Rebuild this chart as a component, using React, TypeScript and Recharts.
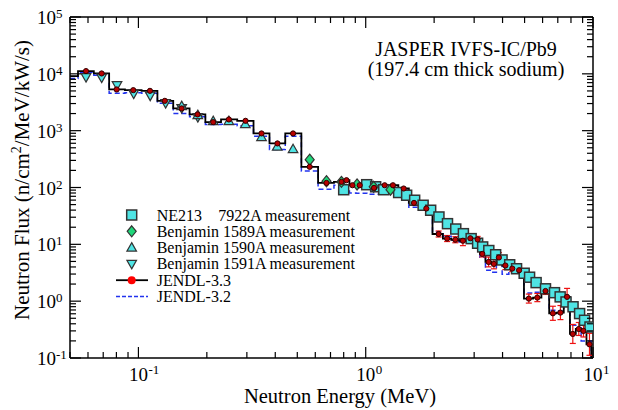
import React from "react";
import { ComposedChart, Line, Scatter, XAxis, YAxis, ErrorBar, Legend } from "recharts";

// JENDL calculation, group centres (first/last entries are the range ends of the histogram)
const jendlE = [
  0.05, 0.0588, 0.0689, 0.0802, 0.0949, 0.1124, 0.1307, 0.1549, 0.182, 0.2133,
  0.25, 0.296, 0.348, 0.409, 0.479, 0.567, 0.672, 0.782, 0.823, 0.874,
  0.941, 1.088, 1.212, 1.318, 1.469, 1.631, 1.848, 2.094, 2.281, 2.479,
  2.677, 2.885, 3.107, 3.258, 3.473, 3.664, 3.855, 4.117, 4.415, 4.73,
  5.22, 5.69, 6.18, 6.66, 7.19, 7.69, 8.15, 8.66, 9.08, 9.65, 10,
];
const jendl33 = [
  9120, 11170, 10150, 5310, 5160, 5020, 3350, 2460, 1930, 1413,
  1574, 1490, 893, 596, 893, 231, 120.5, 125.6, 134.3, 109.6,
  109.6, 98.4, 109.6, 109.6, 96, 53.6, 42.7, 15.2, 12.65, 12.05,
  11.57, 12.8, 12.2, 6.78, 4.9, 4.52, 5.86, 4.24, 3.75, 3.5,
  1.11, 1.157, 1.51, 0.612, 0.63, 1.19, 0.265, 0.324, 0.3, 0.174, 0.1,
];
const jendl32 = [
  8300, 10700, 9480, 4570, 4670, 4570, 3050, 2010, 1750, 1285,
  1300, 1217, 800, 467, 800, 196, 93.3, 109.6, 89.5, 80.4,
  79.4, 76.2, 82.6, 89.5, 89.5, 45, 43.5, 16.5, 13.9, 11.8,
  11.0, 12.8, 11.9, 5.93, 3.5, 3.23, 5.25, 2.98, 3.4, 3.5,
  1.39, 1.43, 1.62, 0.69, 0.67, 1.18, 0.377, 0.34, 0.2, 0.2, 0.1,
];
// error factor of JENDL-3.3 points (1 = no bar)
const jendl33Err = [
  1, 1, 1, 1, 1, 1, 1, 1, 1, 1,
  1, 1, 1, 1, 1, 1, 1, 1, 1, 1,
  1, 1, 1, 1, 1, 1, 1, 1.13, 1.13, 1.13,
  1.22, 1.18, 1.13, 1.13, 1.22, 1.22, 1.22, 1.18, 1.13, 1.13,
  1.2, 1.18, 1.15, 1.33, 1.33, 1.41, 1.47, 1.3, 1.28, 1.56, 1,
];

const ne213E = [
  0.8, 1.01, 1.106, 1.2, 1.396, 1.514, 1.642, 1.789, 1.931, 2.1,
  2.29, 2.49, 2.69, 2.91, 3.107, 3.27, 3.48, 3.73, 3.98, 4.3,
  4.61, 4.98, 5.26, 5.62, 6.18, 6.77, 7.17, 7.61, 8.17, 8.73, 9.18, 9.7,
];
const ne213F = [
  91.4, 112, 103, 91.4, 81.6, 73.1, 59.7, 48.7, 39.8, 30.3,
  23.1, 18.6, 15.4, 12.6, 10.45, 9.0, 7.78, 6.56, 5.31, 4.37,
  3.72, 3.1, 2.64, 2.12, 1.65, 1.41, 1.19, 0.968, 0.797, 0.605, 0.461, 0.351,
];
const b1589E = [0.567, 0.672, 0.782, 0.916, 1.084, 1.285];
const b1589F = [308, 129, 125.6, 113, 103, 91.4];
const b1590E = [0.155, 0.1825, 0.2133, 0.25, 0.2953, 0.348, 0.408, 0.479];
const b1590F = [2700, 1875, 1470, 1470, 1300, 770, 522, 472];
const b1591E = [0.0588, 0.0689, 0.0805, 0.0953, 0.1127, 0.1317, 0.155, 0.1825];
const b1591F = [8750, 8570, 6330, 4480, 4130, 3050, 2490, 1730];

const xTicks = [
  0.05, 0.06, 0.07, 0.08, 0.09, 0.1, 0.2, 0.3, 0.4, 0.5, 0.6, 0.7, 0.8, 0.9,
  1, 2, 3, 4, 5, 6, 7, 8, 9, 10,
];
const yDecades = [0.1, 1, 10, 100, 1000, 10000];
const yMinor = [1, 2, 3, 4, 5, 6, 7, 8, 9];
const yTicks = [...yDecades.flatMap((d) => yMinor.map((m) => m * d)), 100000];

const serifStyle = { fontFamily: "Liberation Serif, Times New Roman, DejaVu Serif, serif" };
const cyan = "#4fe4e4";
const green = "#1fd67a";
const edge = "#333";

const pts = (xs: number[], ys: number[]) => xs.map((e, i) => ({ e, f: ys[i] }));
const line33 = pts(jendlE, jendl33);
const line32 = pts(jendlE, jendl32);
const dots33 = line33
  .map((p, i) => ({ ...p, k: jendl33Err[i] }))
  .filter((_, i) => i > 0 && i < jendlE.length - 1);
const dotsPlain = dots33.filter((p) => p.k === 1);
const dotsErr = dots33
  .filter((p) => p.k > 1)
  .map((p) => ({ ...p, err: [p.f - p.f / p.k, p.f * p.k - p.f] }));

const isDecade = (v: number) => Math.abs(Math.log10(v) - Math.round(Math.log10(v))) < 1e-6;

const BottomTick = (props: any) => {
  const { x, y, payload } = props;
  const v = payload.value;
  const major = isDecade(v);
  return (
    <g>
      <line x1={x} x2={x} y1={y} y2={y - (major ? 11 : 6)} stroke="#000" strokeWidth={1.2} />
      {major && (
        <g fill="#000">
          <text x={x} y={y + 23} textAnchor="middle" fontSize={19} style={serifStyle}>10</text>
          <text x={x + 10} y={y + 16} fontSize={13} style={serifStyle}>{Math.round(Math.log10(v))}</text>
        </g>
      )}
    </g>
  );
};
const TopTick = (props: any) => {
  const { x, y, payload } = props;
  const major = isDecade(payload.value);
  return <line x1={x} x2={x} y1={y} y2={y + (major ? 11 : 6)} stroke="#000" strokeWidth={1.2} />;
};
const LeftTick = (props: any) => {
  const { x, y, payload } = props;
  const v = payload.value;
  const major = isDecade(v);
  return (
    <g>
      <line x1={x} x2={x + (major ? 11 : 6)} y1={y} y2={y} stroke="#000" strokeWidth={1.2} />
      {major && (
        <text x={x - 33} y={y + 7} style={serifStyle} fontSize={19} fill="#000">
          10<tspan dy={-6} fontSize={13}>{Math.round(Math.log10(v))}</tspan>
        </text>
      )}
    </g>
  );
};
const RightTick = (props: any) => {
  const { x, y, payload } = props;
  const major = isDecade(payload.value);
  return <line x1={x} x2={x - (major ? 11 : 6)} y1={y} y2={y} stroke="#000" strokeWidth={1.2} />;
};

const Square = ({ cx, cy }: any) => (
  <rect x={cx - 5} y={cy - 5} width={10} height={10} fill={cyan} stroke={edge} strokeWidth={1.5} />
);
const Diamond = ({ cx, cy }: any) => (
  <path d={`M${cx},${cy - 5.5}L${cx + 4.5},${cy}L${cx},${cy + 5.5}L${cx - 4.5},${cy}Z`} fill={green} stroke={edge} strokeWidth={1.2} />
);
const TriUp = ({ cx, cy }: any) => (
  <path d={`M${cx},${cy - 5}L${cx + 4.8},${cy + 3.5}L${cx - 4.8},${cy + 3.5}Z`} fill={cyan} stroke={edge} strokeWidth={1.2} />
);
const TriDown = ({ cx, cy }: any) => (
  <path d={`M${cx},${cy + 5}L${cx + 4.8},${cy - 3.5}L${cx - 4.8},${cy - 3.5}Z`} fill={cyan} stroke={edge} strokeWidth={1.2} />
);
const RedDot = ({ cx, cy }: any) => (
  <circle cx={cx} cy={cy} r={2.6} fill="#b80000" stroke="#300" strokeWidth={1} />
);

const legendRows = [
  { label: "NE213", extra: "7922A measurement", mark: "square" },
  { label: "Benjamin 1589A measurement", mark: "diamond" },
  { label: "Benjamin 1590A measurement", mark: "up" },
  { label: "Benjamin 1591A measurement", mark: "down" },
  { label: "JENDL-3.3", mark: "j33" },
  { label: "JENDL-3.2", mark: "j32" },
];

const renderLegend = () => (
  <svg width={270} height={100} style={{ overflow: "visible" }}>
    {legendRows.map((r, i) => {
      const cy = 12 + i * 16.3;
      const cx = 23.7;
      return (
        <g key={r.label}>
          {r.mark === "square" && <Square cx={cx} cy={cy} />}
          {r.mark === "diamond" && <Diamond cx={cx} cy={cy} />}
          {r.mark === "up" && <TriUp cx={cx} cy={cy} />}
          {r.mark === "down" && <TriDown cx={cx} cy={cy} />}
          {r.mark === "j33" && (
            <g>
              <line x1={8} x2={40} y1={cy} y2={cy} stroke="#000" strokeWidth={1.8} />
              <circle cx={cx} cy={cy} r={4} fill="#ff0000" />
            </g>
          )}
          {r.mark === "j32" && (
            <line x1={8} x2={40} y1={cy} y2={cy} stroke="#2233ee" strokeWidth={1.5} strokeDasharray="4 2" />
          )}
          <text x={48.7} y={cy + 5.5} style={serifStyle} fontSize={16} fill="#000">
            {r.label}
          </text>
          {r.extra && (
            <text x={110.3} y={cy + 5.5} style={serifStyle} fontSize={16} fill="#000">
              {r.extra}
            </text>
          )}
        </g>
      );
    })}
  </svg>
);

const axisLine = { stroke: "#000", strokeWidth: 1.5 };

export default function App() {
  return (
    <div style={{ position: "absolute", left: 0, top: 0, width: 618, height: 410, background: "#fff", ...serifStyle }}>
      <ComposedChart width={618} height={410} margin={{ top: 16, right: 24, left: 69, bottom: 51 }}>
        <XAxis xAxisId="b" dataKey="e" type="number" scale="log" domain={[0.05, 10]} allowDataOverflow
          ticks={xTicks} interval={0} tick={<BottomTick />} tickLine={false} tickSize={0} tickMargin={0}
          height={1} axisLine={axisLine} />
        <XAxis xAxisId="t" orientation="top" dataKey="e" type="number" scale="log" domain={[0.05, 10]} allowDataOverflow
          ticks={xTicks} interval={0} tick={<TopTick />} tickLine={false} tickSize={0} tickMargin={0}
          height={1} axisLine={axisLine} />
        <YAxis yAxisId="l" dataKey="f" type="number" scale="log" domain={[0.1, 100000]} allowDataOverflow
          ticks={yTicks} interval={0} tick={<LeftTick />} tickLine={false} tickSize={0} tickMargin={0}
          width={1} axisLine={axisLine} />
        <YAxis yAxisId="r" orientation="right" dataKey="f" type="number" scale="log" domain={[0.1, 100000]} allowDataOverflow
          ticks={yTicks} interval={0} tick={<RightTick />} tickLine={false} tickSize={0} tickMargin={0}
          width={1} axisLine={axisLine} />

        <Line xAxisId="b" yAxisId="l" data={line32} dataKey="f" type="step" stroke="#2233ee" strokeWidth={1.5}
          strokeDasharray="5 3" dot={false} isAnimationActive={false} />
        <Scatter xAxisId="b" yAxisId="l" data={pts(ne213E, ne213F)} dataKey="f" shape={<Square />} isAnimationActive={false} />
        <Scatter xAxisId="b" yAxisId="l" data={pts(b1591E, b1591F)} dataKey="f" shape={<TriDown />} isAnimationActive={false} />
        <Scatter xAxisId="b" yAxisId="l" data={pts(b1590E, b1590F)} dataKey="f" shape={<TriUp />} isAnimationActive={false} />
        <Scatter xAxisId="b" yAxisId="l" data={pts(b1589E, b1589F)} dataKey="f" shape={<Diamond />} isAnimationActive={false} />
        <Line xAxisId="b" yAxisId="l" data={line33} dataKey="f" type="step" stroke="#000" strokeWidth={1.8}
          dot={false} isAnimationActive={false} />
        <Scatter xAxisId="b" yAxisId="l" data={dotsErr} dataKey="f" shape={<RedDot />} isAnimationActive={false}>
          <ErrorBar dataKey="err" direction="y" stroke="#ee1111" strokeWidth={1.2} width={3} />
        </Scatter>
        <Scatter xAxisId="b" yAxisId="l" data={dotsPlain} dataKey="f" shape={<RedDot />} isAnimationActive={false} />

        <Legend content={renderLegend} layout="horizontal" verticalAlign="middle" align="center"
          wrapperStyle={{ left: 108, top: 203, width: 270, height: 100 }} />

        <text x={466} y={56} textAnchor="middle" style={serifStyle} fontSize={20} fill="#000">JASPER IVFS-IC/Pb9</text>
        <text x={466} y={76} textAnchor="middle" style={serifStyle} fontSize={20} fill="#000">(197.4 cm thick sodium)</text>
        <text x={340} y={403} textAnchor="middle" style={serifStyle} fontSize={20.5} fill="#000">Neutron Energy (MeV)</text>
        <text transform="translate(29,180) rotate(-90)" textAnchor="middle" style={serifStyle} fontSize={21} fill="#000">
          Neutron Flux (n/cm<tspan dy={-8} fontSize={14}>2</tspan><tspan dy={8}>/MeV/kW/s)</tspan>
        </text>
      </ComposedChart>
    </div>
  );
}
